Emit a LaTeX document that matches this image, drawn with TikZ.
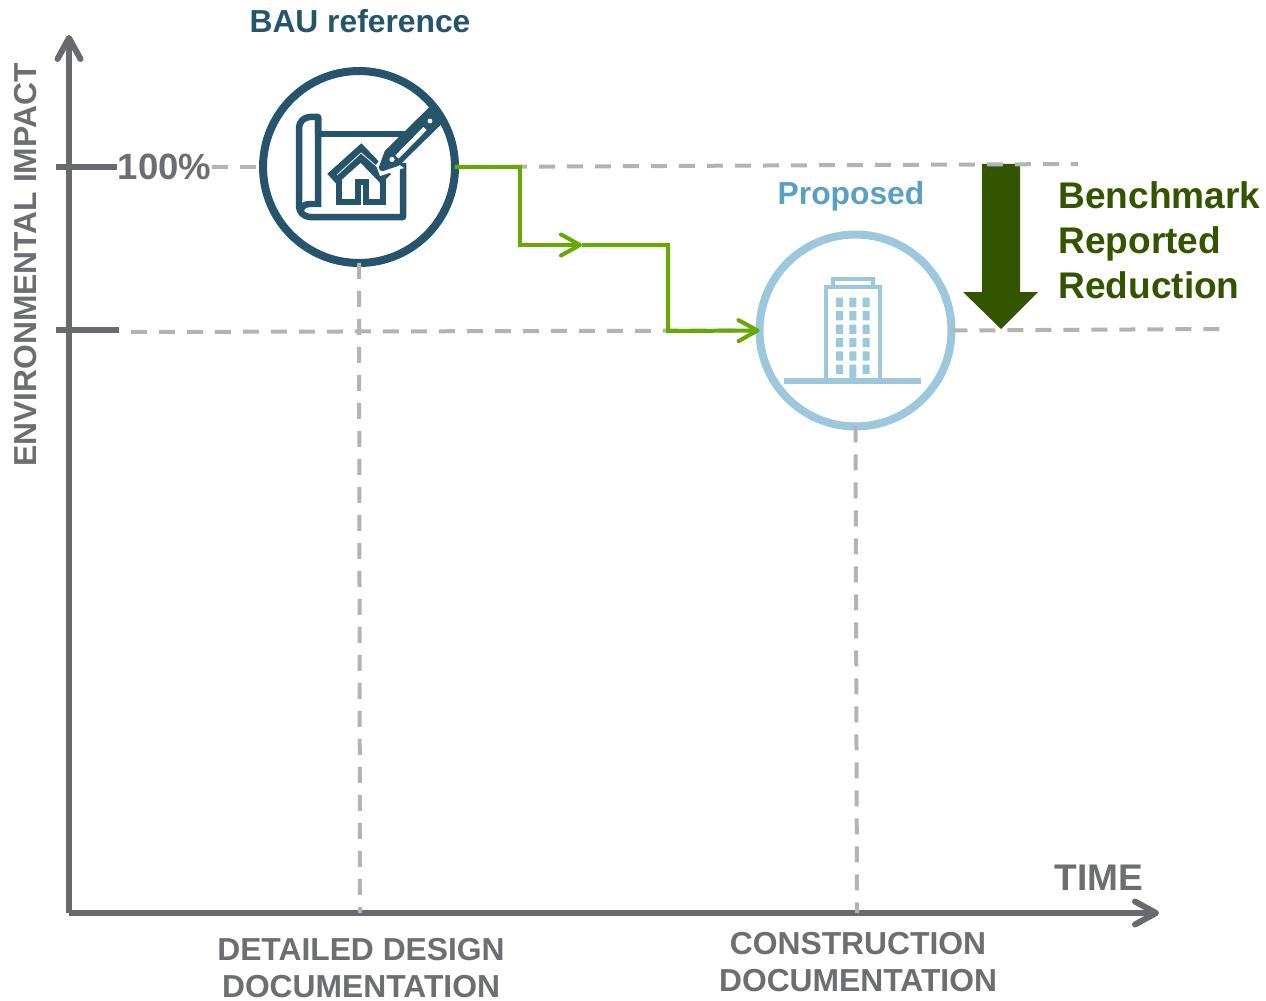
\documentclass[tikz,border=0pt]{standalone}
\usepackage{fontspec}
\setmainfont{Liberation Sans}
\usetikzlibrary{arrows.meta,positioning}
\definecolor{baublue}{HTML}{26546B}
\definecolor{propblue}{HTML}{9DC8DC}
\definecolor{proptext}{HTML}{58A0C4}
\definecolor{axisgrey}{HTML}{696A70}
\definecolor{labelgrey}{HTML}{6D6E71}
\definecolor{refgrey}{HTML}{B3B3B3}
\definecolor{stepgreen}{HTML}{66A900}
\definecolor{darkgreen}{HTML}{335500}
\tikzset{
  axisline/.style={axisgrey, line width=0.12cm},
  axisarrow/.style={axisline, -{Straight Barb[round, length=0.42cm, width=0.46cm]}},
  refline/.style={refgrey, line width=0.08cm, dash pattern=on 0.32cm off 0.24cm},
  stepline/.style={stepgreen, line width=0.08cm},
  steparrow/.style={stepline, -{Straight Barb[round, length=0.38cm, width=0.42cm]}},
  ringnode/.style={circle, minimum size=3.84cm, inner sep=0, outer sep=0, line width=0.16cm},
  txt/.style={inner sep=0, font=\fontsize{18.1}{21.5}\selectfont\bfseries, align=center},
  bigtxt/.style={inner sep=0, font=\fontsize{21.1}{25.5}\selectfont\bfseries, align=left}
}
\begin{document}
\begin{tikzpicture}[x=0.02cm,y=-0.02cm]
\useasboundingbox (0,0) rectangle (1266,1000);
\coordinate (origin) at (69,913);
\coordinate (ytop) at (69,35);
\coordinate (xend) at (1159,913);
\coordinate (tickone) at (56,167);
\coordinate (ticktwo) at (56,330);
\coordinate (tickend) at (119,330);
\coordinate (lowstart) at (131,332);
\coordinate (topend) at (1078,164);
\coordinate (lowend) at (1220,329);
\coordinate (bauaxis) at (360,913);
\coordinate (propaxis) at (857,913);
\coordinate (corna) at (520,167);
\coordinate (cornb) at (520,245);
\coordinate (midstep) at (582,245);
\coordinate (cornc) at (668,245);
\coordinate (cornd) at (668,331);
% the two circles
\draw (359,167) node (bau) [ringnode, draw=baublue] {};
\draw (855.5,330.5) node (prop) [ringnode, draw=propblue] {};
% texts
\draw (360,21) node (baulabel) [txt, text=baublue] {BAU reference};
\draw (851,196) node (proplabel) [txt, text=proptext] {Proposed};
\draw (164.5,167) node (pct) [inner sep=0, font=\fontsize{20.8}{24}\selectfont\bfseries, text=labelgrey] {100\%};
\draw (26,265) node (ylabel) [txt, text=labelgrey, rotate=90] {ENVIRONMENTAL IMPACT};
\draw (1099,878) node (xlabel) [inner sep=0, font=\fontsize{21.1}{24}\selectfont\bfseries, text=labelgrey] {TIME};
\draw (361,968) node (design) [txt, text=labelgrey] {DETAILED DESIGN\\DOCUMENTATION};
\draw (858,962) node (constr) [txt, text=labelgrey] {CONSTRUCTION\\DOCUMENTATION};
\draw (1058,240) node (bench) [bigtxt, anchor=west, text=darkgreen] {Benchmark\\Reported\\Reduction};
% reduction arrow
\fill[darkgreen] (982,164)--(1020,164)--(1020,292)--(1038,292)--(1001,329)--(963,292)--(982,292)--cycle;
% axes
\draw[axisarrow] (origin)--(ytop);
\draw[axisarrow] (origin)--(xend);
\draw[axisline] (tickone)--(tickone -| pct.west);
\draw[axisline] (ticktwo)--(tickend);
% dashed reference lines
\draw[refline] (pct.east)--(bau.west);
\draw[refline] (bau.east)--(topend);
\draw[refline] (lowstart)--(prop.west);
\draw[refline] (prop.east)--(lowend);
\draw[refline] (bau.south)--(bauaxis);
\draw[refline] (prop.south)--(propaxis);
% green steps
\draw[steparrow] (bau.east)--(corna)--(cornb)--(midstep);
\draw[steparrow] (midstep)--(cornc)--(cornd)--(prop.west);
% blueprint
\draw[baublue, line width=0.13cm, line join=round] (318,134)--(318,117)--(310,117) to[out=180,in=90] (299,128)--(299,206) to[out=-90,in=180] (310,217)--(403,217)--(403,163);
\draw[baublue, line width=0.13cm] (318,117)--(318,204)--(310,204) to[out=180,in=80] (301,210);
\draw[baublue, line width=0.13cm] (318,134)--(406,134);
\draw[baublue, line width=0.13cm] (339,176)--(339,202)--(358,202)--(358,182)--(366,182)--(366,202)--(383,202)--(383,176);
\draw[baublue, line width=0.28cm, miter limit=4] (332,179)--(361,153)--(386,179);
\draw[white, line width=0.016cm] (337,175)--(361,153)--(381,170);
% pencil
\fill[white] (380,176)--(376,165)--(384,154)--(392,160)--(404,168)--cycle;
\draw[baublue, line width=0.13cm, fill=baublue, line join=round] (382,168)--(387.5,152.8)--(431,110)--(441,120)--(397.3,162.8)--cycle;
\draw[white, line width=0.09cm] (397,157)--(425,128.5);
\fill[white] (430,121) circle (2.4);
\fill[white] (392,159.5) circle (2.6);
% building
\draw[propblue, line width=0.12cm] (784,381)--(921,381);
\draw[propblue, line width=0.08cm] (826,381)--(826,287.3)--(880,287.3)--(880,381);
\draw[propblue, line width=0.08cm] (832.7,287)--(832.7,279.3)--(873,279.3)--(873,287);
\fill[propblue] (836,297.7) rectangle +(7,9.3) (849.3,297.7) rectangle +(7,9.3) (862.7,297.7) rectangle +(7,9.3);
\fill[propblue] (836,311.1) rectangle +(7,9.3) (849.3,311.1) rectangle +(7,9.3) (862.7,311.1) rectangle +(7,9.3);
\fill[propblue] (836,324.5) rectangle +(7,9.3) (849.3,324.5) rectangle +(7,9.3) (862.7,324.5) rectangle +(7,9.3);
\fill[propblue] (836,337.9) rectangle +(7,9.3) (849.3,337.9) rectangle +(7,9.3) (862.7,337.9) rectangle +(7,9.3);
\fill[propblue] (836,351.3) rectangle +(7,9.3) (849.3,351.3) rectangle +(7,9.3) (862.7,351.3) rectangle +(7,9.3);
\fill[propblue] (836,364.7) rectangle +(7,9.3) (849.3,364.7) rectangle +(7,16) (862.7,364.7) rectangle +(7,9.3);
\end{tikzpicture}
\end{document}
